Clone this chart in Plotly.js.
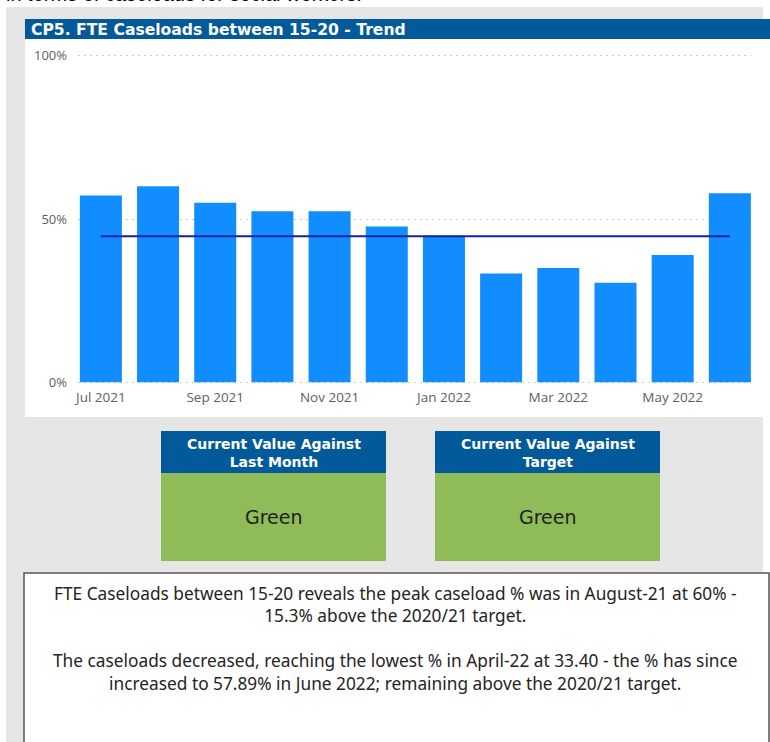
<!DOCTYPE html>
<html>
<head>
<meta charset="utf-8">
<script src="https://cdn.plot.ly/plotly-3.0.1.min.js"></script>
<style>
  html, body { margin: 0; padding: 0; background: #ffffff; }
  #chart { width: 770px; height: 742px; }
</style>
</head>
<body>
<div id="chart"></div>
<script>
// ---- Data ----
const months = ['Jul 2021', 'Aug 2021', 'Sep 2021', 'Oct 2021', 'Nov 2021', 'Dec 2021',
                'Jan 2022', 'Feb 2022', 'Mar 2022', 'Apr 2022', 'May 2022', 'Jun 2022'];
const caseloadPct = [57.2, 60.0, 55.0, 52.4, 52.4, 47.7, 44.9, 33.3, 35.0, 30.5, 39.0, 57.89];
const targetPct = 44.7;
const xTickLabels = ['Jul 2021', 'Sep 2021', 'Nov 2021', 'Jan 2022', 'Mar 2022', 'May 2022'];
const yTickVals = [0, 50, 100];
const yTickText = ['0%', '50%', '100%'];
const chartTitle = 'CP5. FTE Caseloads between 15-20 - Trend';
const cardHeaders = ['Current Value Against<br>Last Month', 'Current Value Against<br>Target'];
const cardValues = ['Green', 'Green'];
const topText = 'in terms of caseloads for social workers.';
const commentary = [
  'FTE Caseloads between 15-20 reveals the peak caseload % was in August-21 at 60% -',
  '15.3% above the 2020/21 target.',
  '',
  'The caseloads decreased, reaching the lowest % in April-22 at 33.40 - the % has since',
  'increased to 57.89% in June 2022; remaining above the 2020/21 target.'
];

// ---- Layout helpers (pixel -> paper) ----
const W = 770, H = 742;
const px = v => v / W;
const py = v => 1 - v / H;

const shapes = [];
const annotations = [];
function rect(x0, y0, x1, y1, fill, line) {
  shapes.push({type: 'rect', xref: 'paper', yref: 'paper', layer: 'below',
    x0: px(x0), x1: px(x1), y0: py(y1), y1: py(y0),
    fillcolor: fill, line: line || {width: 0}});
}

// grey canvas panel
rect(6, 7, 763, 742, '#e6e6e6');
// chart card
rect(25, 39, 770, 417, '#ffffff');
rect(25, 19, 770, 39, '#035a9b');
// KPI cards
const cardX = [[161, 386], [435, 660]];
cardX.forEach((c, i) => {
  rect(c[0], 431, c[1], 473, '#035a9b');
  rect(c[0], 473, c[1], 561, '#8fbb58');
  annotations.push({xref: 'paper', yref: 'paper', x: px((c[0] + c[1]) / 2), y: py(453),
    xanchor: 'center', yanchor: 'middle', showarrow: false, align: 'center',
    text: '<b>' + cardHeaders[i] + '</b>',
    font: {family: 'DejaVu Sans, sans-serif', size: 14, color: '#ffffff'}});
  annotations.push({xref: 'paper', yref: 'paper', x: px((c[0] + c[1]) / 2), y: py(517),
    xanchor: 'center', yanchor: 'middle', showarrow: false,
    text: cardValues[i],
    font: {family: 'DejaVu Sans, sans-serif', size: 19, color: '#222222'}});
});
// commentary text box
rect(24, 573, 769, 760, '#ffffff', {color: '#555555', width: 1.5});
annotations.push({xref: 'paper', yref: 'paper', x: px(395), y: py(580),
  xanchor: 'center', yanchor: 'top', showarrow: false, align: 'center',
  text: commentary.join('<br>'),
  font: {family: 'Noto Sans, Open Sans, sans-serif', size: 17.3, color: '#252423'}});
// chart title
annotations.push({xref: 'paper', yref: 'paper', x: px(29), y: py(29.5),
  xanchor: 'left', yanchor: 'middle', showarrow: false,
  text: '<b>' + chartTitle + '</b>',
  font: {family: 'DejaVu Sans, sans-serif', size: 15.6, color: '#ffffff'}});
// clipped top text
annotations.push({xref: 'paper', yref: 'paper', x: px(4), y: py(-6),
  xanchor: 'left', yanchor: 'middle', showarrow: false,
  text: topText,
  font: {family: 'Liberation Sans, Arial, sans-serif', size: 20, color: '#000000'}});

const traces = [
  {type: 'bar', x: months, y: caseloadPct, marker: {color: '#118dff'},
   width: 0.735, hoverinfo: 'x+y', showlegend: false},
  {type: 'scatter', mode: 'lines', x: months, y: months.map(() => targetPct),
   line: {color: '#12239e', width: 2}, hoverinfo: 'y', showlegend: false}
];

const layout = {
  width: W, height: H,
  margin: {l: 0, r: 0, t: 0, b: 0},
  paper_bgcolor: '#ffffff',
  plot_bgcolor: 'rgba(0,0,0,0)',
  showlegend: false,
  shapes: shapes,
  annotations: annotations,
  xaxis: {
    type: 'category',
    domain: [px(78), px(751)],
    range: [-0.40, 11.37],
    tickmode: 'array', tickvals: xTickLabels, ticktext: xTickLabels,
    showgrid: false, zeroline: false, showline: false, ticks: '',
    ticklabelstandoff: 4,
    tickfont: {family: 'Open Sans, Noto Sans, sans-serif', size: 13.5, color: '#605e5c'},
    fixedrange: true
  },
  yaxis: {
    domain: [py(383.9), py(54.1)],
    range: [-0.5, 100.5],
    tickmode: 'array', tickvals: yTickVals, ticktext: yTickText,
    showgrid: true, gridcolor: '#d2d0ce', griddash: '2px,4px', gridwidth: 1,
    zeroline: false, showline: false, ticks: '',
    ticklabelstandoff: 10,
    tickfont: {family: 'Open Sans, Noto Sans, sans-serif', size: 13, color: '#605e5c'},
    fixedrange: true
  }
};

Plotly.newPlot('chart', traces, layout, {displayModeBar: false, staticPlot: true});
</script>
</body>
</html>
